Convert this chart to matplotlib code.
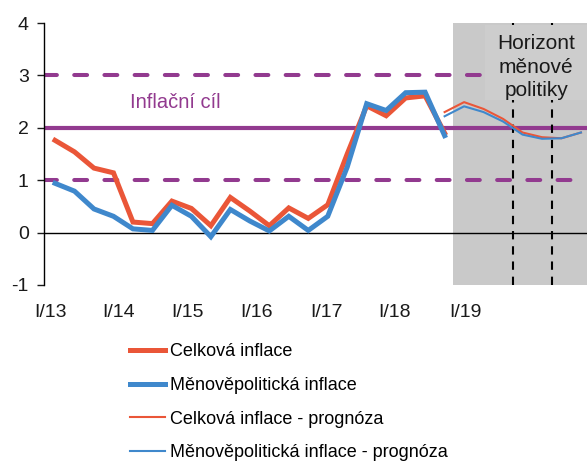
import matplotlib
matplotlib.use('Agg')
import matplotlib.pyplot as plt
from matplotlib.patches import Rectangle

plt.rcParams['font.family'] = ['Liberation Sans', 'DejaVu Sans']
plt.rcParams['axes.unicode_minus'] = False

# quarterly data, I/13 ... IV/19 (index 0..27)
celkova = [1.76, 1.54, 1.23, 1.14, 0.20, 0.17, 0.60, 0.46, 0.13, 0.67, 0.41,
	0.13, 0.47, 0.27, 0.53, 1.50, 2.42, 2.23, 2.57, 2.61, 1.90]
menova = [0.94, 0.79, 0.45, 0.31, 0.07, 0.04, 0.52, 0.31, -0.08, 0.44, 0.22,
	0.03, 0.31, 0.04, 0.31, 1.25, 2.46, 2.33, 2.67, 2.68, 1.85]
celkovaPrognoza = [2.30, 2.49, 2.36, 2.17, 1.91, 1.82, 1.80, 1.91]
menovaPrognoza = [2.22, 2.41, 2.30, 2.12, 1.87, 1.79, 1.80, 1.91]
prognozaStart = 20

tickLabels = ['I/13', 'I/14', 'I/15', 'I/16', 'I/17', 'I/18', 'I/19']
target = 2
band = [1, 3]

red = '#ea5638'
blue = '#3f88cc'
purple = '#923a8f'
fs = 13

fig = plt.figure(figsize=(5.87, 4.61), dpi=100)
ax = fig.add_axes([0.075, 0.382, 0.925, 0.568])

xActual = list(range(len(celkova)))
xForecast = list(range(prognozaStart, prognozaStart + len(celkovaPrognoza)))

# forecast area and monetary policy horizon
ax.axvspan(20.45, 28, color='#c9c9c9', lw=0, zorder=0)
ax.add_patch(Rectangle((22.07, 2.54), 6, 1.42, facecolor='#cdcdcd', edgecolor='none', zorder=4))
ax.text(24.7, 3.16, 'Horizont\nměnové\npolitiky', ha='center', va='center', fontsize=15,
	linespacing=1.28, color='#1a1a1a', zorder=5)
for xh in [23.5, 25.5]:
	ax.axvline(xh, color='black', lw=1.5, dashes=(4, 3.3), zorder=3)

# target and tolerance band
ax.axhline(target, color=purple, lw=3, zorder=2)
for b in band:
	ax.axhline(b, color=purple, lw=2.9, dashes=(3.2, 4.3), dash_capstyle='round', zorder=2)
ax.text(6.16, 2.48, 'Inflační cíl', color=purple, fontsize=14.5, ha='center', va='center')
ax.axhline(0, color='black', lw=1, zorder=2)

l1, = ax.plot(xActual, celkova, color=red, lw=3.6, zorder=6, solid_joinstyle='miter')
l2, = ax.plot(xActual, menova, color=blue, lw=3.6, zorder=7, solid_joinstyle='miter')
l3, = ax.plot(xForecast, celkovaPrognoza, color=red, lw=1.5, zorder=6)
l4, = ax.plot(xForecast, menovaPrognoza, color=blue, lw=1.5, zorder=7)

ax.set_xlim(-0.565, 27.31)
ax.set_ylim(-1, 4)
ax.set_yticks([-1, 0, 1, 2, 3, 4])
ax.set_xticks([-0.25, 3.25, 6.8, 10.35, 13.95, 17.45, 21.05])
ax.set_xticklabels(tickLabels)
ax.tick_params(axis='x', length=0, pad=14, labelsize=14, colors='#1a1a1a')
ax.tick_params(axis='y', length=5, width=1, pad=6, labelsize=14, colors='#1a1a1a')
for s in ['top', 'right', 'bottom']:
	ax.spines[s].set_visible(False)
ax.spines['left'].set_linewidth(1)

fig.legend([l1, l2, l3, l4],
	['Celková inflace', 'Měnověpolitická inflace', 'Celková inflace - prognóza',
	 'Měnověpolitická inflace - prognóza'],
	loc='upper left', bbox_to_anchor=(0.221, 0.255), frameon=False, fontsize=fs,
	handlelength=1.95, handletextpad=0.3, labelspacing=0.92, borderpad=0, borderaxespad=0)

fig.savefig('out.png', dpi=100)
